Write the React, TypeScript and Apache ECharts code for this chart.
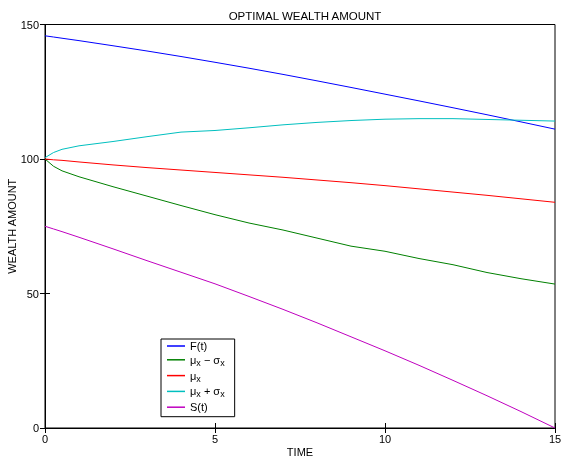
import React, { useEffect, useRef } from "react";
import * as echarts from "echarts";

const time = [0, 0.25, 0.5, 1, 2, 3, 4, 5, 6, 7, 8, 9, 10, 11, 12, 13, 14, 15];
const fValues = [145.8, 145.35, 144.9, 144.0, 142.1, 140.15, 138.1, 135.95, 133.75, 131.45, 129.05, 126.6, 124.1, 121.6, 119.05, 116.45, 113.8, 111.1];
const lowValues = [100, 97.3, 95.6, 93.4, 89.7, 86.2, 82.7, 79.3, 76.2, 73.6, 70.6, 67.6, 65.7, 63.0, 60.7, 57.8, 55.5, 53.5];
const meanValues = [100, 99.7, 99.5, 98.9, 97.8, 96.8, 95.9, 95.0, 94.1, 93.2, 92.2, 91.2, 90.1, 88.9, 87.7, 86.5, 85.2, 83.9];
const highValues = [100.5, 102.4, 103.6, 104.9, 106.5, 108.3, 110.0, 110.6, 111.6, 112.7, 113.6, 114.3, 114.8, 115.0, 115.0, 114.7, 114.4, 114.1];
const sValues = [75, 74.0, 73.0, 70.9, 66.6, 62.2, 57.9, 53.6, 48.9, 44.1, 39.1, 33.9, 28.7, 23.3, 17.7, 12.0, 6.1, 0];

const seriesNames = ["F(t)", "μx − σx", "μx", "μx + σx", "S(t)"];
const seriesColors = ["#0000ff", "#008000", "#ff0000", "#00bfbf", "#bf00bf"];
const legendRich: Record<string, string> = {
  "F(t)": "{n|F(t)}",
  "μx − σx": "{n|μ}{s|x}{n| − σ}{s|x}",
  "μx": "{n|μ}{s|x}",
  "μx + σx": "{n|μ}{s|x}{n| + σ}{s|x}",
  "S(t)": "{n|S(t)}",
};

const FONT = "'Liberation Sans', Arial, Helvetica, sans-serif";

export default function App() {
  const ref = useRef<HTMLDivElement>(null);
  useEffect(() => {
    if (!ref.current) return;
    const chart = echarts.init(ref.current, undefined, { renderer: "svg" });
    const allValues = [fValues, lowValues, meanValues, highValues, sValues];
    const axisCommon = {
      type: "value" as const,
      axisLine: { show: true, lineStyle: { color: "#000", width: 1 } },
      axisTick: { show: true, inside: true, length: 5, lineStyle: { color: "#000" } },
      splitLine: { show: false },
    };
    chart.setOption({
      animation: false,
      textStyle: { fontFamily: FONT },
      title: {
        text: "OPTIMAL WEALTH AMOUNT",
        left: 300,
        textAlign: "center",
        top: 5,
        textStyle: { fontSize: 11.5, fontWeight: "normal", color: "#000", fontFamily: FONT },
      },
      grid: {
        left: 45,
        right: 7,
        top: 24.5,
        bottom: 33,
        show: true,
        borderColor: "#000",
        borderWidth: 1,
        containLabel: false,
        outerBoundsMode: "none",
      },
      legend: {
        data: seriesNames,
        orient: "vertical",
        left: 161,
        top: 339,
        itemWidth: 18,
        itemHeight: 1.5,
        itemGap: 2.8,
        icon: "rect",
        padding: [1.5, 10, 4, 6],
        borderColor: "#000",
        borderWidth: 1,
        backgroundColor: "#fff",
        formatter: (name: string) => legendRich[name] || name,
        textStyle: {
          color: "#000",
          fontFamily: FONT,
          rich: {
            n: { fontSize: 11, lineHeight: 15, color: "#000", fontFamily: FONT },
            s: { fontSize: 9, lineHeight: 15, verticalAlign: "bottom", color: "#000", fontFamily: FONT },
          },
        },
      },
      xAxis: [
        {
          ...axisCommon,
          min: 0,
          max: 15,
          interval: 5,
          position: "bottom",
          name: "TIME",
          nameLocation: "middle",
          nameGap: 18,
          nameMoveOverlap: false,
          nameTextStyle: { fontSize: 11, color: "#000", fontFamily: FONT },
          axisLabel: { fontSize: 11, color: "#000", margin: 5, fontFamily: FONT },
        },
        {
          ...axisCommon,
          min: 0,
          max: 15,
          interval: 5,
          position: "top",
          axisLabel: { show: false },
        },
      ],
      yAxis: [
        {
          ...axisCommon,
          min: 0,
          max: 150,
          interval: 50,
          position: "left",
          name: "WEALTH AMOUNT",
          nameLocation: "middle",
          nameGap: 27.5,
          nameMoveOverlap: false,
          nameTextStyle: { fontSize: 11, color: "#000", fontFamily: FONT },
          axisLabel: { fontSize: 11, color: "#000", margin: 6, fontFamily: FONT },
        },
        {
          ...axisCommon,
          min: 0,
          max: 150,
          interval: 50,
          position: "right",
          axisLabel: { show: false },
        },
      ],
      series: seriesNames.map((name, i) => ({
        name,
        type: "line",
        xAxisIndex: 0,
        yAxisIndex: 0,
        showSymbol: false,
        symbol: "none",
        lineStyle: { width: 1, color: seriesColors[i] },
        itemStyle: { color: seriesColors[i] },
        data: time.map((t, j) => [t, allValues[i][j]]),
      })),
    });
    return () => chart.dispose();
  }, []);
  return <div ref={ref} style={{ position: "fixed", left: 0, top: 0, width: 562, height: 461 }} />;
}
